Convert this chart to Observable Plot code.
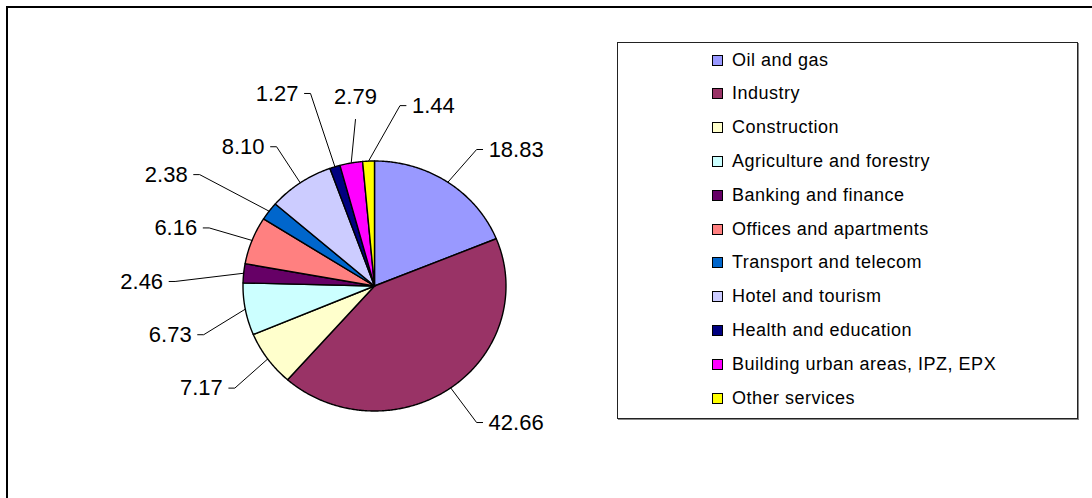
<!DOCTYPE html>
<html><head><meta charset="utf-8">
<script src="https://cdn.jsdelivr.net/npm/d3@7"></script>
<script src="https://cdn.jsdelivr.net/npm/@observablehq/plot@0.6"></script>
<style>
html,body{margin:0;padding:0;background:#fff;overflow:hidden;width:1092px;height:498px}
#wrap{position:relative;width:1092px;height:498px;overflow:hidden;background:#fff}
#chart{position:absolute;left:0;top:0}
#frame{position:absolute;left:6px;top:6px;width:1300px;height:700px;border-top:2px solid #000;border-left:2px solid #000;box-sizing:border-box}
#legend{position:absolute;left:617px;top:42px;width:459px;height:375px;border:1px solid #222;box-shadow:1px 1px 0 #888;background:#fff;font-family:"Liberation Sans",Arial,sans-serif;font-size:18px;color:#000}
.row{position:absolute;left:94px;height:22px;display:flex;align-items:center;white-space:nowrap;letter-spacing:0.5px}
.sw{width:9px;height:9px;border:1px solid #000;margin-right:9px;flex:none}
</style></head><body>
<div id="wrap"><div id="chart"></div><div id="frame"></div><div id="legend"></div></div>
<script>
// ---- data ----
const categories = ["Oil and gas","Industry","Construction","Agriculture and forestry","Banking and finance","Offices and apartments","Transport and telecom","Hotel and tourism","Health and education","Building urban areas, IPZ, EPX","Other services"];
const values = [18.83, 42.66, 7.17, 6.73, 2.46, 6.16, 2.38, 8.10, 1.27, 2.79, 1.44];
const colors = ["#9999FF","#993366","#FFFFCC","#CCFFFF","#660066","#FF8080","#0066CC","#CCCCFF","#000080","#FF00FF","#FFFF00"];

// ---- layout ----
const xRange = [242.5, 505.5], yRange = [410.5, 160.5];
const sx = (xRange[1]-xRange[0])/2, sy = (yRange[0]-yRange[1])/2;
const fmt = d3.format(".2f");
const FS = 22;

const pie = d3.pie().sort(null).startAngle(0).endAngle(2*Math.PI)(values);

// slice polygons in data space (angle clockwise from top)
const slicePts = [];
pie.forEach((p, i) => {
  const n = Math.max(2, Math.ceil((p.endAngle - p.startAngle) / (Math.PI/360)));
  slicePts.push({k:i, cat:categories[i], x:0, y:0});
  for (let j = 0; j <= n; j++) {
    const a = p.startAngle + (p.endAngle - p.startAngle) * j / n;
    slicePts.push({k:i, cat:categories[i], x:Math.sin(a), y:Math.cos(a)});
  }
  slicePts.push({k:i, cat:categories[i], x:0, y:0});
});

// label placement: collision relaxation (angular spread + smaller label pushed outward)
const R = 1.34, RMAX = 1.9, STUB = 6, GAP = 6, TH = 22, PADX = 34, PADY = 31, SIDE_R = 0.08, SIDE_L = 0.3;
const textW = s => [...s].reduce((w,c)=>w+(c==="."?0.278:0.556),0)*FS;
const labs = pie.map((p,i)=>{const t=(p.startAngle+p.endAngle)/2; return {i, v:values[i], theta:t, phi:t, r:R, text:fmt(values[i])};});
function geom(l){
  const ax = l.r*Math.sin(l.phi)*sx, ay = -l.r*Math.cos(l.phi)*sy;
  const s = Math.sin(l.phi), w = textW(l.text);
  let side, x0, y0;
  if (s > SIDE_R) {side="right"; x0=ax+STUB+GAP; y0=ay-TH/2;}
  else if (s < -SIDE_L) {side="left"; x0=ax-STUB-GAP-w; y0=ay-TH/2;}
  else if (Math.cos(l.phi) > 0) {side="top"; x0=ax-w/2; y0=ay-TH-12;}
  else {side="bottom"; x0=ax-w/2; y0=ay+12;}
  return {ax, ay, side, x0, y0, w, h:TH};
}
for (let it=0; it<2000; it++){
  const g = labs.map(geom);
  for (let a=0;a<labs.length;a++) for (let b=a+1;b<labs.length;b++){
    const A=g[a], B=g[b];
    const ox = Math.min(A.x0+A.w, B.x0+B.w) - Math.max(A.x0, B.x0) + PADX;
    const oy = Math.min(A.y0+A.h, B.y0+B.h) - Math.max(A.y0, B.y0) + PADY;
    if (ox>0 && oy>0){
      let d = labs[b].phi - labs[a].phi;
      d = ((d + 3*Math.PI) % (2*Math.PI)) - Math.PI;
      const st = 0.003;
      if (d>=0){labs[a].phi-=st; labs[b].phi+=st;} else {labs[a].phi+=st; labs[b].phi-=st;}
      const small = labs[a].v < labs[b].v ? labs[a] : labs[b];
      small.r = Math.min(RMAX, small.r + 0.0015);
    }
  }
  labs.forEach(l=>{l.phi += 0.001*(l.theta-l.phi); l.r += 0.001*(R-l.r);});
}
const leaders = [], textsL = [], textsR = [], textsC = [];
labs.forEach(l=>{
  const g = geom(l);
  const ex = Math.sin(l.theta), ey = Math.cos(l.theta);
  leaders.push({k:l.i, x:ex, y:ey});
  leaders.push({k:l.i, x:g.ax/sx, y:-g.ay/sy});
  if (g.side==="right"){ leaders.push({k:l.i, x:(g.ax+STUB)/sx, y:-g.ay/sy}); textsR.push({x:g.x0/sx, y:-(g.y0+TH/2)/sy, text:l.text}); }
  else if (g.side==="left"){ leaders.push({k:l.i, x:(g.ax-STUB)/sx, y:-g.ay/sy}); textsL.push({x:(g.x0+g.w)/sx, y:-(g.y0+TH/2)/sy, text:l.text}); }
  else { textsC.push({x:(g.x0+g.w/2)/sx, y:-(g.y0+TH/2)/sy, text:l.text}); }
});

const txt = {fontSize:FS, fontFamily:"'Liberation Sans', Arial, sans-serif", fill:"#000", lineAnchor:"middle"};
const chart = Plot.plot({
  width:1092, height:498, margin:0,
  style:{background:"transparent", overflow:"visible"},
  x:{domain:[-1,1], range:xRange, axis:null},
  y:{domain:[-1,1], range:yRange, axis:null},
  color:{domain:categories, range:colors},
  marks:[
    Plot.line(slicePts, {x:"x", y:"y", z:"k", fill:"cat", stroke:"#000", strokeWidth:1.4, strokeLinejoin:"round"}),
    Plot.line(leaders, {x:"x", y:"y", z:"k", stroke:"#000", strokeWidth:1}),
    Plot.text(textsR, {x:"x", y:"y", text:"text", textAnchor:"start", ...txt}),
    Plot.text(textsL, {x:"x", y:"y", text:"text", textAnchor:"end", ...txt}),
    Plot.text(textsC, {x:"x", y:"y", text:"text", textAnchor:"middle", ...txt})
  ]
});
document.getElementById("chart").appendChild(chart);

// legend
const lg = document.getElementById("legend");
categories.forEach((c,i)=>{
  const row = document.createElement("div");
  row.className="row";
  row.style.top = (17 + 33.8*i - 11) + "px";
  const sw = document.createElement("span"); sw.className="sw"; sw.style.background = colors[i];
  const tx = document.createElement("span"); tx.textContent = c;
  row.appendChild(sw); row.appendChild(tx); lg.appendChild(row);
});
</script></body></html>
